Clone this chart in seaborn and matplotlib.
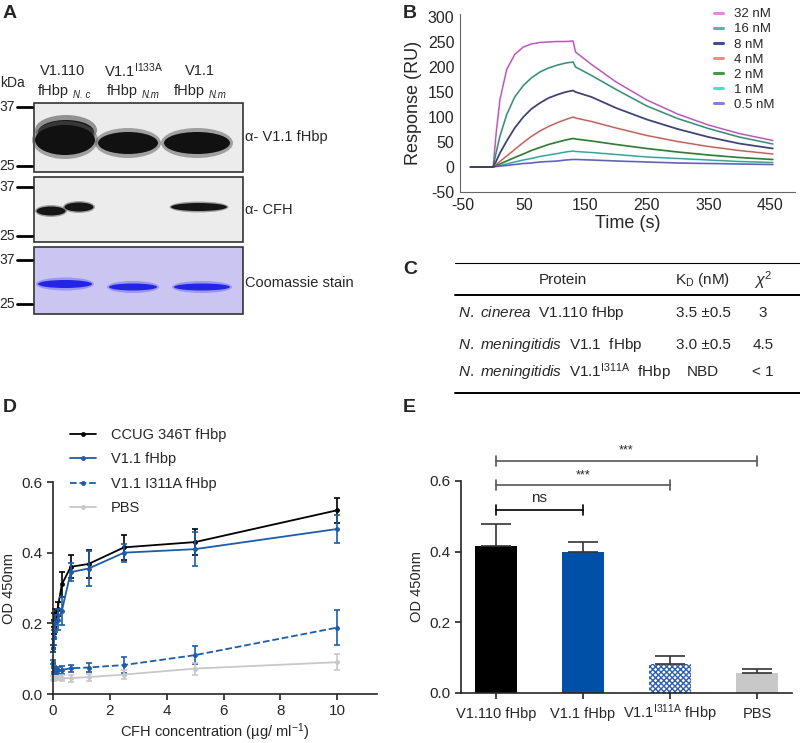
import numpy as np
import pandas as pd
import matplotlib
matplotlib.use("Agg")
import matplotlib.pyplot as plt
from matplotlib.patches import Rectangle, Ellipse
from matplotlib.lines import Line2D
import matplotlib.transforms as mtransforms
import seaborn as sns

sns.set_style("ticks")
plt.rcParams["font.family"] = ["Liberation Sans", "DejaVu Sans"]
plt.rcParams["mathtext.fontset"] = "custom"
plt.rcParams["mathtext.rm"] = "Liberation Sans"
plt.rcParams["mathtext.it"] = "Liberation Sans:italic"
plt.rcParams["mathtext.bf"] = "Liberation Sans:bold"
plt.rcParams["axes.unicode_minus"] = False
plt.rcParams["hatch.linewidth"] = 1.0

# ---------- data ----------
# B: SPR sensorgram (time in s, response in RU)
spr_time = [-37, -2, 0, 5, 11, 22, 35, 49, 62, 76, 90, 105, 118, 130, 134,
            160, 200, 250, 300, 350, 400, 455]
spr_32 = [0, 0, 0, 70, 135, 195, 225, 240, 246, 249, 250, 251, 251, 252, 230,
          205, 170, 134, 106, 84, 67, 53]
spr_16 = [0, 0, 0, 30, 62, 105, 140, 163, 178, 190, 198, 204, 208, 210, 200,
          183, 155, 122, 97, 77, 60, 46]
spr_8 = [0, 0, 0, 12, 28, 52, 78, 100, 116, 128, 138, 145, 150, 153, 150,
         140, 118, 95, 76, 60, 47, 37]
spr_4 = [0, 0, 0, 5, 11, 22, 35, 49, 61, 72, 81, 89, 95, 100, 98,
         91, 78, 63, 51, 41, 33, 26]
spr_2 = [0, 0, 0, 3, 6, 12, 19, 26, 33, 39, 45, 50, 54, 57, 56,
         52, 45, 37, 30, 24, 19, 15]
spr_1 = [0, 0, 0, 1.5, 3, 6, 10, 14, 17, 21, 24, 27, 30, 32, 31,
         29, 25, 20, 17, 14, 11, 9]
spr_05 = [0, 0, 0, 1, 2, 3, 5, 7, 8, 10, 11, 12, 14, 15, 15,
          14, 12, 10, 8, 7, 6, 5]
spr_labels = ["32 nM", "16 nM", "8 nM", "4 nM", "2 nM", "1 nM", "0.5 nM"]
spr_colors = ["#ee82ee", "#55b8a0", "#4b4b8c", "#f48c84", "#3f9b45", "#5ad6cc", "#8080e8"]

# C: table
tab_protein = [r"$\it{N.\ cinerea}$  V1.110 fHbp",
               r"$\it{N.\ meningitidis}$  V1.1  fHbp",
               r"$\it{N.\ meningitidis}$  V1.1$^{\rm I311A}$  fHbp"]
tab_kd = ["3.5 \u00b10.5", "3.0 \u00b10.5", "NBD"]
tab_chi = ["3", "4.5", "< 1"]

# D: ELISA titration (CFH ug/ml vs OD450)
cfh_conc = [0, 0.02, 0.04, 0.08, 0.16, 0.31, 0.625, 1.25, 2.5, 5, 10]
od_ccug = [0.13, 0.19, 0.21, 0.22, 0.24, 0.31, 0.36, 0.368, 0.415, 0.43, 0.52]
err_ccug = [0.01, 0.02, 0.02, 0.02, 0.02, 0.035, 0.032, 0.04, 0.035, 0.037, 0.035]
od_v11 = [0.13, 0.16, 0.18, 0.20, 0.21, 0.235, 0.345, 0.355, 0.40, 0.41, 0.467]
err_v11 = [0.01, 0.02, 0.025, 0.025, 0.03, 0.04, 0.025, 0.05, 0.025, 0.048, 0.04]
od_i311a = [0.09, 0.07, 0.065, 0.065, 0.067, 0.068, 0.073, 0.075, 0.082, 0.11, 0.188]
err_i311a = [0.005, 0.008, 0.008, 0.008, 0.01, 0.01, 0.01, 0.013, 0.022, 0.025, 0.05]
od_pbs = [0.045, 0.044, 0.043, 0.044, 0.045, 0.045, 0.045, 0.048, 0.055, 0.072, 0.09]
err_pbs = [0.005, 0.005, 0.005, 0.005, 0.006, 0.008, 0.01, 0.01, 0.013, 0.017, 0.022]
elisa_labels = ["CCUG 346T fHbp", "V1.1 fHbp", "V1.1 I311A fHbp", "PBS"]

# E: bar chart
bar_names = ["V1.110 fHbp", "V1.1 fHbp", r"V1.1$^{\rm I311A}$ fHbp", "PBS"]
bar_od = [0.415, 0.40, 0.083, 0.057]
bar_err = [0.063, 0.028, 0.022, 0.012]
sig_pairs = [(0, 1), (0, 2), (0, 3)]
sig_text = ["ns", "***", "***"]

# A: blot bands (lane centre, row centre, width, height)
blot_bands = [(65, 140, 60, 30), (128, 143, 60, 22), (197, 143, 66, 22)]
cfh_bands = [(51, 211, 29, 9), (79, 207, 29, 9), (199, 207, 56, 8)]
coom_bands = [(65, 284, 54, 8), (133, 287, 48, 7), (202, 287, 56, 7)]

# ---------- figure ----------
W, H = 800, 743
fig = plt.figure(figsize=(8, 7.43), dpi=100)


def box(x0, y0, x1, y1):
    return [x0 / W, 1 - y1 / H, (x1 - x0) / W, (y1 - y0) / H]


ov = fig.add_axes([0, 0, 1, 1])
ov.set_xlim(0, W)
ov.set_ylim(H, 0)
ov.axis("off")

# panel letters
for lab, x, y in [("A", 3, 14), ("B", 403, 14), ("C", 403, 269), ("D", 3, 407), ("E", 403, 407)]:
    ov.text(x, y, lab, fontsize=14, fontweight="bold", va="center")

# ---------- A: blots ----------
panels = [(103, 172, "#ececec"), (177, 242, "#ececec"), (247, 314, "#cbc5f2")]
for y0, y1, fc in panels:
    ov.add_patch(Rectangle((34, y0), 209, y1 - y0, facecolor=fc, edgecolor="#333333", lw=1.2))

# upper smear on lane 1
ov.add_patch(Ellipse((66, 130), 62, 30, facecolor="#555555", edgecolor="none", alpha=0.6))
ov.add_patch(Ellipse((66, 132), 56, 24, facecolor="#1a1a1a", edgecolor="none"))
for cx, cy, w, h in blot_bands:
    ov.add_patch(Ellipse((cx, cy), w + 6, h + 8, facecolor="#555555", edgecolor="none", alpha=0.5))
    ov.add_patch(Ellipse((cx, cy), w, h, facecolor="#111111", edgecolor="none"))
for cx, cy, w, h in cfh_bands:
    ov.add_patch(Ellipse((cx, cy), w + 3, h + 3, facecolor="#555555", edgecolor="none", alpha=0.5))
    ov.add_patch(Ellipse((cx, cy), w, h, facecolor="#151515", edgecolor="none"))
for cx, cy, w, h in coom_bands:
    ov.add_patch(Ellipse((cx, cy), w + 4, h + 5, facecolor="#6a6af0", edgecolor="none", alpha=0.5))
    ov.add_patch(Ellipse((cx, cy), w, h, facecolor="#2424e6", edgecolor="none"))

for lab, y in [("37", 107), ("25", 166), ("37", 187), ("25", 236), ("37", 260), ("25", 304)]:
    ov.text(15, y, lab, fontsize=10, ha="right", va="center")
    ov.plot([17, 32], [y, y], color="black", lw=2)
ov.text(0, 83, "kDa", fontsize=10, va="center")
ov.text(63, 71, "V1.110", fontsize=10.5, ha="center", va="center")
ov.text(133, 71, r"V1.1$^{\rm I133A}$", fontsize=10.5, ha="center", va="center")
ov.text(200, 71, "V1.1", fontsize=10.5, ha="center", va="center")
for x, sp in [(38, "N. c"), (107, "N.m"), (174, "N.m")]:
    ov.text(x, 91, "fHbp", fontsize=10.5, va="center")
    ov.text(x + 35, 95, sp, fontsize=7, style="italic", va="center")
ov.text(245, 137, "\u03b1- V1.1 fHbp", fontsize=10.5, va="center")
ov.text(245, 210, "\u03b1- CFH", fontsize=10.5, va="center")
ov.text(245, 283, "Coomassie stain", fontsize=10.5, va="center")

# ---------- C: table ----------
ov.plot([455, 800], [263, 263], color="black", lw=0.8)
ov.plot([455, 800], [295, 295], color="black", lw=1.4)
ov.plot([455, 800], [393, 393], color="black", lw=1.4)
ov.text(563, 280, "Protein", fontsize=11, ha="center", va="center")
ov.text(703, 280, r"K$_{\rm D}$ (nM)", fontsize=11, ha="center", va="center")
ov.text(763, 280, r"$\chi^2$", fontsize=11.5, ha="center", va="center")
for i, y in enumerate([313, 345, 372]):
    ov.text(458, y, tab_protein[i], fontsize=11, va="center")
    ov.text(703, y, tab_kd[i], fontsize=11, ha="center", va="center")
    ov.text(763, y, tab_chi[i], fontsize=11, ha="center", va="center")

# ---------- B: sensorgram ----------
axb = fig.add_axes(box(460, 13.5, 795, 192))
spr_series = [spr_32, spr_16, spr_8, spr_4, spr_2, spr_1, spr_05]
spr_df = pd.concat([pd.DataFrame({"time": spr_time, "resp": s, "conc": lab})
                    for s, lab in zip(spr_series, spr_labels)])
sns.lineplot(data=spr_df, x="time", y="resp", hue="conc", palette=spr_colors,
             lw=1.3, ax=axb, legend=False, sort=False)
sns.lineplot(data=spr_df, x="time", y="resp", units="conc", estimator=None,
             color="#333333", lw=0.5, alpha=0.55, ax=axb, legend=False, sort=False)
axb.set_xlim(-54, 491)
axb.set_ylim(-50, 307)
axb.set_xticks(range(-50, 451, 100))
axb.set_yticks(range(-50, 301, 50))
axb.set_xlabel("Time (s)", fontsize=13, labelpad=2)
axb.set_ylabel("Response (RU)", fontsize=13, labelpad=4)
axb.tick_params(labelsize=11.5, length=0, pad=4)
sns.despine(ax=axb)
for sp in axb.spines.values():
    sp.set_color("#666666")
    sp.set_linewidth(0.8)
handles = [Line2D([], [], color=c, lw=2.2) for c in spr_colors]
axb.legend(handles, spr_labels, loc="upper left", bbox_to_anchor=(714 / W, 1 - 8 / H),
           bbox_transform=fig.transFigure, frameon=False, fontsize=9.5,
           handlelength=0.7, handletextpad=0.8, labelspacing=0.22,
           borderpad=0, borderaxespad=0)

# ---------- D: ELISA ----------
axd = fig.add_axes(box(53, 482, 377, 694))
elisa_means = [od_ccug, od_v11, od_i311a, od_pbs]
elisa_errs = [err_ccug, err_v11, err_i311a, err_pbs]
elisa_colors = ["black", "#1d5ca8", "#1d5ca8", "#c8c8c8"]
elisa_styles = ["-", "-", "--", "-"]
for m, e, c, ls, lab in zip(elisa_means, elisa_errs, elisa_colors, elisa_styles, elisa_labels):
    sns.lineplot(x=cfh_conc, y=m, color=c, ax=axd, lw=1.3, linestyle=ls,
                 marker="o", markersize=3.5, markeredgewidth=0, clip_on=False)
    axd.errorbar(cfh_conc, m, yerr=e, fmt="none", ecolor=c, elinewidth=1.2,
                 capsize=2.5, capthick=1.2, clip_on=False)
axd.set_xlim(0, 11.4)
axd.set_ylim(0, 0.6)
axd.set_xticks([0, 2, 4, 6, 8, 10])
axd.set_yticks([0.0, 0.2, 0.4, 0.6])
axd.set_yticklabels(["0.0", "0.2", "0.4", "0.6"])
axd.set_xlabel("CFH concentration (\u00b5g/ ml$^{-1}$)", fontsize=10.5, labelpad=2)
axd.set_ylabel("OD 450nm", fontsize=10.5)
axd.tick_params(labelsize=11, length=4, width=1.2)
sns.despine(ax=axd)
for sp in axd.spines.values():
    sp.set_linewidth(1.2)
dh = [Line2D([], [], color=c, lw=1.3, ls=ls, marker="o", markersize=3.5, markeredgewidth=0)
      for c, ls in zip(elisa_colors, elisa_styles)]
axd.legend(dh, elisa_labels, loc="upper left", bbox_to_anchor=(70 / W, 1 - 428 / H),
           bbox_transform=fig.transFigure, frameon=False, fontsize=10.5,
           handlelength=1.8, handletextpad=1.0, labelspacing=0.72,
           borderpad=0, borderaxespad=0)

# ---------- E: bars ----------
axe = fig.add_axes(box(461, 481, 792, 693))
bar_colors = ["black", "#0050a8", "white", "#c8c8c8"]
sns.barplot(x=bar_names, y=bar_od, palette=bar_colors, hue=bar_names, legend=False,
            width=0.48, ax=axe, saturation=1)
for i, p in enumerate(axe.patches):
    p.set_edgecolor("none")
    if i == 2:
        p.set_hatch("xxxxxx")
        p.set_edgecolor("#2f5fb0")
        p.set_linewidth(0)
axe.errorbar(range(4), bar_od, yerr=[np.zeros(4), bar_err], fmt="none", ecolor="#333333",
             elinewidth=1.2, capsize=11, capthick=1.2)
axe.set_xlim(-0.4, 3.4)
axe.set_ylim(0, 0.6)
axe.set_yticks([0.0, 0.2, 0.4, 0.6])
axe.set_yticklabels(["0.0", "0.2", "0.4", "0.6"])
axe.set_ylabel("OD 450nm", fontsize=10.5)
axe.tick_params(labelsize=11, length=4, width=1.2)
axe.set_xticks(range(4))
axe.set_xticklabels([""] * 4)
# category labels on a shared baseline (superscript must not push one down)
trans = mtransforms.blended_transform_factory(axe.transData, fig.transFigure)
for i, name in enumerate(bar_names):
    axe.text(i, 1 - 718 / H, name, transform=trans, ha="center", va="baseline",
             fontsize=10.5, clip_on=False)
sns.despine(ax=axe)
for sp in axe.spines.values():
    sp.set_linewidth(1.2)
for (a, b), txt, yb in zip(sig_pairs, sig_text, [0.519, 0.588, 0.657]):
    col = "black" if txt == "ns" else "#555555"
    axe.plot([a, b], [yb, yb], color=col, lw=1.2, clip_on=False)
    for xx in (a, b):
        axe.plot([xx, xx], [yb - 0.014, yb + 0.014], color=col, lw=1.2, clip_on=False)
    axe.text((a + b) / 2, yb + 0.012, txt, ha="center", va="bottom",
             fontsize=11 if txt == "ns" else 9, clip_on=False)

fig.savefig("out.png", dpi=100)
